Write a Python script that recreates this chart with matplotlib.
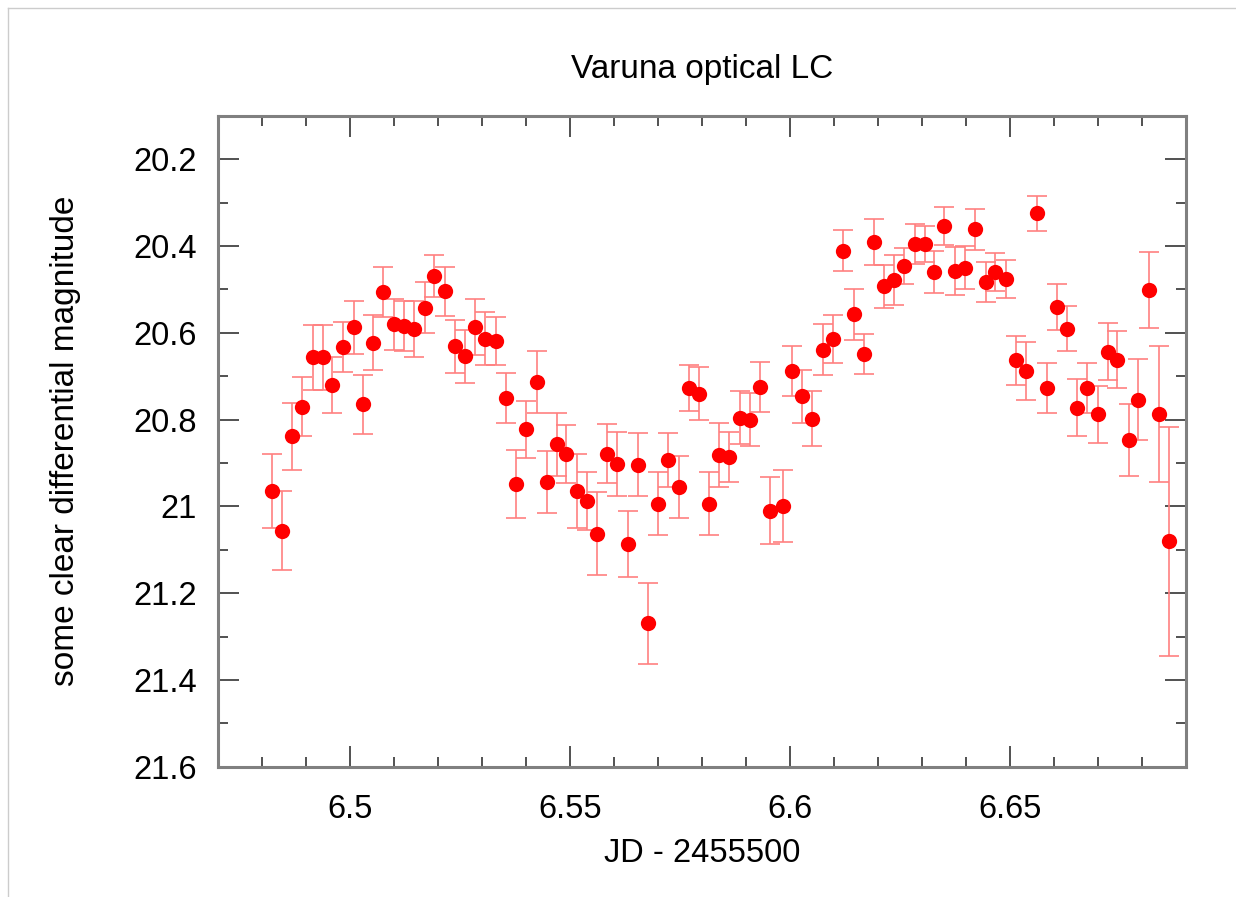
import matplotlib
matplotlib.use("Agg")
import matplotlib.pyplot as plt
from matplotlib.lines import Line2D

plt.rcParams['font.family'] = ['Liberation Sans', 'DejaVu Sans']

# JD - 2455500
jd = [6.4822, 6.4845, 6.4868, 6.4892, 6.4915, 6.4938, 6.4960, 6.4983, 6.5008, 6.5029,
      6.5052, 6.5076, 6.5099, 6.5122, 6.5145, 6.5170, 6.5192, 6.5215, 6.5238, 6.5261,
      6.5283, 6.5306, 6.5331, 6.5354, 6.5377, 6.5400, 6.5424, 6.5447, 6.5470, 6.5492,
      6.5515, 6.5538, 6.5561, 6.5585, 6.5606, 6.5631, 6.5654, 6.5677, 6.5700, 6.5723,
      6.5747, 6.5770, 6.5793, 6.5815, 6.5838, 6.5861, 6.5886, 6.5909, 6.5932, 6.5954,
      6.5983, 6.6005, 6.6028, 6.6051, 6.6074, 6.6098, 6.6121, 6.6145, 6.6169, 6.6190,
      6.6213, 6.6236, 6.6259, 6.6283, 6.6306, 6.6328, 6.6351, 6.6375, 6.6398, 6.6421,
      6.6445, 6.6467, 6.6490, 6.6514, 6.6537, 6.6562, 6.6585, 6.6606, 6.6630, 6.6653,
      6.6676, 6.6699, 6.6722, 6.6744, 6.6770, 6.6792, 6.6815, 6.6838, 6.6861]

mag = [20.964, 21.056, 20.839, 20.771, 20.657, 20.657, 20.721, 20.633, 20.588, 20.765,
       20.623, 20.506, 20.581, 20.585, 20.591, 20.542, 20.469, 20.505, 20.631, 20.654,
       20.587, 20.614, 20.619, 20.750, 20.948, 20.823, 20.714, 20.944, 20.857, 20.879,
       20.964, 20.988, 21.063, 20.879, 20.902, 21.087, 20.904, 21.270, 20.994, 20.893,
       20.956, 20.727, 20.741, 20.994, 20.881, 20.887, 20.796, 20.800, 20.725, 21.010,
       21.000, 20.689, 20.747, 20.798, 20.639, 20.614, 20.411, 20.558, 20.650, 20.391,
       20.493, 20.479, 20.446, 20.396, 20.396, 20.460, 20.355, 20.458, 20.450, 20.362,
       20.483, 20.461, 20.477, 20.664, 20.688, 20.325, 20.728, 20.541, 20.591, 20.773,
       20.727, 20.788, 20.644, 20.662, 20.848, 20.754, 20.501, 20.787, 21.081]

err = [0.085, 0.091, 0.077, 0.068, 0.074, 0.074, 0.064, 0.058, 0.060, 0.068,
       0.063, 0.057, 0.058, 0.058, 0.064, 0.058, 0.048, 0.056, 0.061, 0.061,
       0.064, 0.061, 0.056, 0.058, 0.078, 0.066, 0.072, 0.072, 0.073, 0.067,
       0.085, 0.067, 0.096, 0.068, 0.074, 0.077, 0.072, 0.093, 0.072, 0.063,
       0.072, 0.053, 0.061, 0.072, 0.074, 0.058, 0.061, 0.060, 0.058, 0.077,
       0.083, 0.058, 0.060, 0.063, 0.058, 0.055, 0.047, 0.058, 0.046, 0.052,
       0.050, 0.058, 0.041, 0.046, 0.042, 0.049, 0.044, 0.055, 0.049, 0.047,
       0.047, 0.044, 0.044, 0.056, 0.066, 0.041, 0.058, 0.053, 0.052, 0.066,
       0.058, 0.066, 0.066, 0.066, 0.083, 0.094, 0.088, 0.157, 0.264]

x_major = [6.5, 6.55, 6.6, 6.65]
y_major = [20.2, 20.4, 20.6, 20.8, 21.0, 21.2, 21.4, 21.6]
y_labels = ['20.2', '20.4', '20.6', '20.8', '21', '21.2', '21.4', '21.6']

fig = plt.figure(figsize=(12.36, 8.97), dpi=100)
ax = fig.add_axes([218 / 1236, 1 - 766.7 / 897, 968 / 1236, 651 / 897])

ax.errorbar(jd, mag, yerr=err, fmt='none', ecolor='#ff8080', elinewidth=1.2,
            capsize=7, capthick=1.2, zorder=2)
ax.plot(jd, mag, 'o', color='#ff0000', markersize=11, markeredgewidth=0, zorder=3)

ax.set_xlim(6.47, 6.69)
ax.set_ylim(21.6, 20.1)
ax.set_xticks(x_major)
ax.set_xticklabels(['6.5', '6.55', '6.6', '6.65'])
ax.set_xticks([6.47 + 0.01 * i for i in range(23)], minor=True)
ax.set_yticks(y_major)
ax.set_yticklabels(y_labels)
ax.set_yticks([20.1 + 0.1 * i for i in range(16)], minor=True)

ax.tick_params(which='both', direction='in', top=True, right=True,
               color='#333333', width=1.2, labelsize=23.5)
ax.tick_params(which='major', length=15)
ax.tick_params(which='minor', length=7)
ax.tick_params(axis='x', pad=20)
ax.tick_params(axis='y', pad=15)

for s in ax.spines.values():
    s.set_color('#808080')
    s.set_linewidth(2.2)

ax.set_title("Varuna optical LC", fontsize=24, pad=27)
ax.set_xlabel("JD - 2455500", fontsize=23.5, labelpad=9)
ax.set_ylabel("some clear differential magnitude", fontsize=24, labelpad=38)

# thin frame lines at top and left of the picture
fig.add_artist(Line2D([8 / 1236, 1], [1 - 8 / 897, 1 - 8 / 897], color='#cccccc', lw=1))
fig.add_artist(Line2D([8 / 1236, 8 / 1236], [0, 1 - 8 / 897], color='#cccccc', lw=1))

fig.savefig("out.png", dpi=100)
